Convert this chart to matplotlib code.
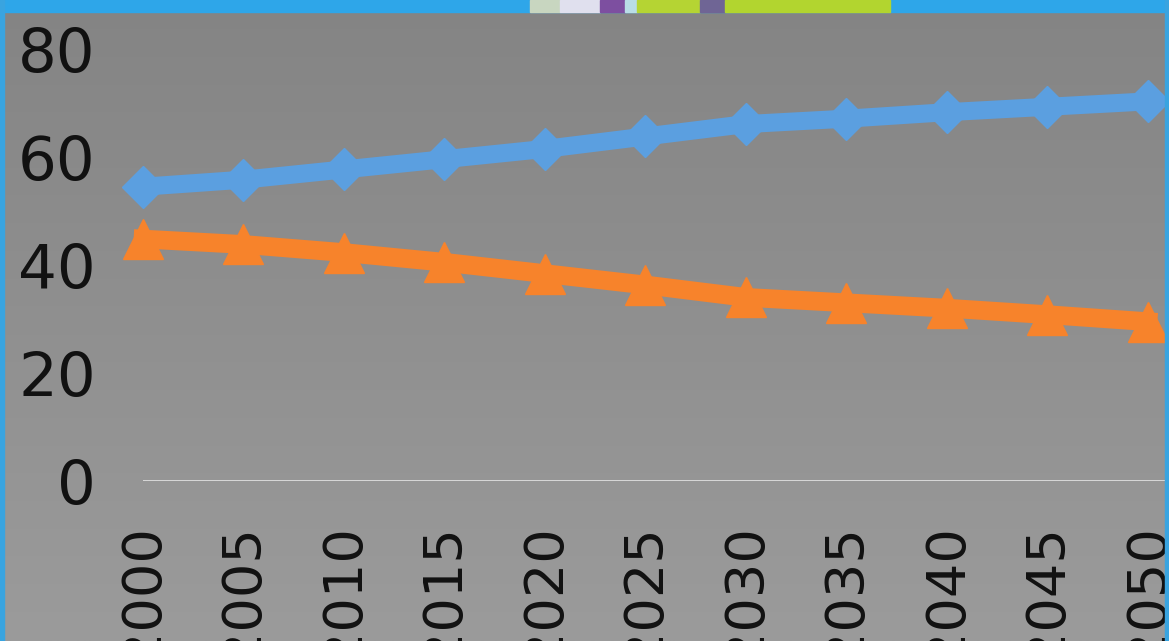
import numpy as np
import matplotlib
matplotlib.use("Agg")
import matplotlib.pyplot as plt
from matplotlib.patches import Rectangle

years = [2000, 2005, 2010, 2015, 2020, 2025, 2030, 2035, 2040, 2045, 2050]
series_blue = [54.5, 55.8, 57.7, 59.6, 61.5, 63.8, 66.1, 67.1, 68.3, 69.3, 70.3]
series_orange = [44.8, 43.8, 42.3, 40.5, 38.4, 36.3, 34.0, 33.0, 32.0, 30.8, 29.5]
y_ticks = [0, 20, 40, 60, 80]

W, H = 1169, 641
fig = plt.figure(figsize=(W / 100, H / 100), dpi=100)

# background gradient
bg = fig.add_axes([0, 0, 1, 1], zorder=-5)
grad = np.linspace(0, 1, 256).reshape(-1, 1)
top = np.array([0x84, 0x84, 0x84]) / 255
bot = np.array([0x9b, 0x9b, 0x9b]) / 255
img = top + (bot - top) * grad[..., None]
bg.imshow(np.repeat(img, 2, axis=1), aspect="auto", extent=[0, 1, 0, 1], origin="upper")
bg.set_axis_off()

# decorative top strip and edges
def frect(x0, y0, w, h, c):
    fig.patches.append(Rectangle((x0 / W, 1 - (y0 + h) / H), w / W, h / H,
                                 transform=fig.transFigure, color=c, zorder=10))

frect(0, 0, W, 12, "#2ea6e9")
frect(530, 0, 30, 12, "#c8d6c0")
frect(560, 0, 40, 12, "#e0e0ee")
frect(600, 0, 25, 12, "#7d4fa0")
frect(625, 0, 12, 12, "#b9dde6")
frect(637, 0, 63, 12, "#b5d433")
frect(700, 0, 25, 12, "#6f6595")
frect(725, 0, 165, 12, "#b2d52f")
frect(0, 0, 4, H, "#39a4e0")
frect(W - 4, 0, 4, H, "#39a4e0")

left_px, right_px = 143, W
y0_px, y80_px = 481, 49
ax = fig.add_axes([left_px / W, 1 - y0_px / H, (right_px - left_px) / W, (y0_px - y80_px) / H])
ax.set_facecolor("none")
span = (years[-1] - years[0]) * (right_px - left_px) / (1148 - left_px)
ax.set_xlim(years[0], years[0] + span)
ax.set_ylim(0, 80)

ax.axhline(0, color="#dedede", lw=2, zorder=1)

ax.plot(years, series_blue, color="#5b9fe0", lw=13, marker="D", markersize=21,
        clip_on=False, zorder=3, solid_joinstyle="round")
ax.plot(years, series_orange, color="#f7832b", lw=13.5, marker="^", markersize=29,
        clip_on=False, zorder=3, solid_joinstyle="round")

for s in ax.spines.values():
    s.set_visible(False)
ax.set_yticks(y_ticks)
ax.set_yticklabels([str(v) for v in y_ticks])
ax.set_xticks(years)
ax.set_xticklabels([str(y) for y in years], rotation=90)
ax.tick_params(axis="y", length=0, pad=34, labelsize=44, labelcolor="#111111")
ax.tick_params(axis="x", length=0, pad=31, labelsize=39, labelcolor="#111111")
for lab in ax.get_xticklabels() + ax.get_yticklabels():
    lab.set_fontfamily("DejaVu Sans")

fig.savefig("out.png", dpi=100)
